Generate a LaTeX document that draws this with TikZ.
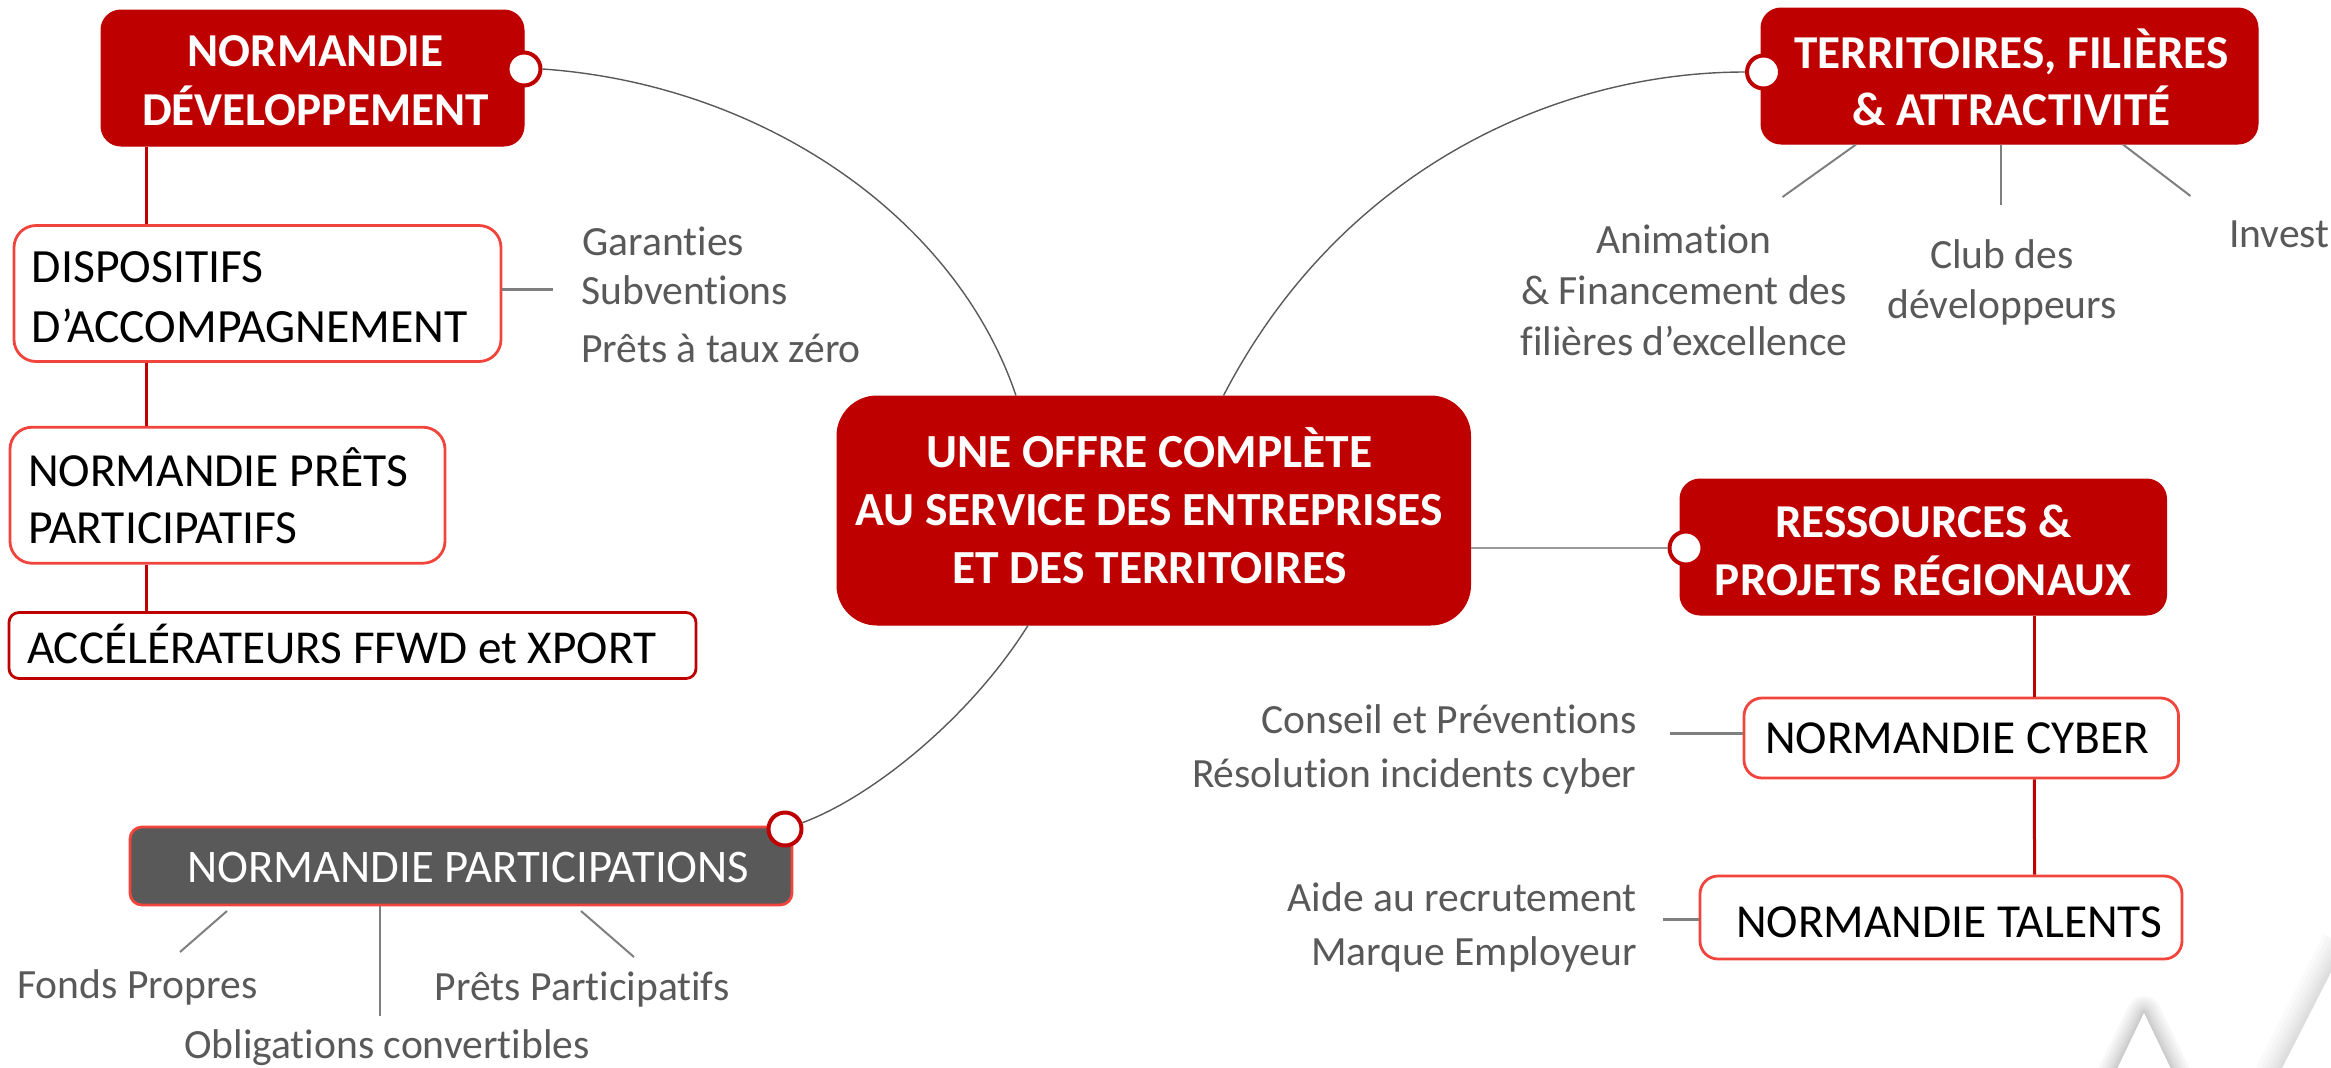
\documentclass[tikz,border=0pt]{standalone}
\usepackage{fontspec}
\setmainfont{Carlito}[Ligatures=NoCommon]
\definecolor{rednode}{HTML}{BE0000}
\definecolor{redline}{HTML}{F0443C}
\definecolor{greytext}{HTML}{595959}
\definecolor{greyline}{HTML}{7F7F7F}
\newcommand{\headfont}[2]{\fontsize{#1}{#2}\selectfont\bfseries}
\newcommand{\boxfont}[2]{\fontsize{#1}{#2}\selectfont}
\newcommand{\labelfont}[1]{\fontsize{20.8}{#1}\selectfont}
\tikzset{
  x=0.5pt,y=-0.5pt,
  headbox/.style={rectangle,rounded corners=10pt,fill=rednode,draw=rednode,line width=0.5pt,
    text=white,align=center,font=\headfont{23.6}{29.5},inner sep=0pt,text depth=0pt},
  whitebox/.style={rectangle,rounded corners=11pt,fill=white,draw=redline,line width=1.4pt,
    text=black,align=flush left,font=\boxfont{23.7}{30},inner ysep=0pt,text depth=0pt},
  knob/.style={circle,fill=white,draw=rednode,line width=2pt,minimum size=16.5pt,inner sep=0pt},
  greylabel/.style={text=greytext,font=\labelfont{27},inner sep=0pt},
  redlink/.style={draw=rednode,line width=1.5pt},
  greylink/.style={draw=greyline,line width=1.5pt},
  thincurve/.style={draw=greytext,line width=0.7pt},
}
\begin{document}
\begin{tikzpicture}
\useasboundingbox (0,0) rectangle (2331,1067);
% background mark
\begin{scope}
\clip (0,0) rectangle (2331,1067);
\foreach \w in {34,28,22,17,12,8,4}{
  \draw[line width=\w*0.5pt,black,opacity=0.03,line join=round,line cap=butt] (2105,1094) -- (2144,1013) -- (2183,1094);
  \draw[line width=\w*0.7pt,black,opacity=0.02,line cap=butt] (2270,1092) -- (2345,945);
}
\fill[white] (2105,1094) -- (2144,1013) -- (2183,1094) -- cycle;
\fill[white] (2270,1092) -- (2345,945) -- (2345,1092) -- cycle;
\end{scope}

% central node
\node[headbox,font=\headfont{23.75}{29},rounded corners=20pt,minimum width=316.75pt,minimum height=114.5pt,text height=73pt] (ctr) at (1153.75,510.5)
  {UNE OFFRE COMPLÈTE\rule{4.5pt}{0pt}\\AU SERVICE DES ENTREPRISES\rule{4.5pt}{0pt}\\ET DES TERRITOIRES\rule{4pt}{0pt}};

% headers
\node[headbox,minimum width=211.5pt,minimum height=68pt,text height=47.7pt] (nd) at (312.5,78) {\hspace*{3pt}NORMANDIE\\\hspace*{3pt}DÉVELOPPEMENT};
\node[headbox,font=\headfont{23.6}{28.5},minimum width=248.5pt,minimum height=68pt,text height=49pt] (tfa) at (2009.5,76) {\hspace*{2pt}TERRITOIRES, FILIÈRES\\\hspace*{2pt}\&~ATTRACTIVITÉ};
\node[headbox,font=\headfont{23.6}{29},minimum width=243.25pt,minimum height=68pt,text height=48pt] (rpr) at (1923.25,547) {RESSOURCES \&\\PROJETS RÉGIONAUX};

% white boxes
\node[whitebox,font=\boxfont{23.85}{30},text width=225.5pt,inner xsep=9pt,minimum height=68pt,text height=0pt,text depth=11pt] (dis) at (257.5,293.5) {DISPOSITIFS\\D’ACCOMPAGNEMENT};
\node[whitebox,font=\boxfont{23.75}{28.5},text width=199.5pt,inner xsep=9pt,minimum height=68pt,text height=0pt,text depth=9.2pt] (pre) at (227.5,495.2) {NORMANDIE PRÊTS\\PARTICIPATIFS};
\node[whitebox,font=\boxfont{23.6}{30},draw=rednode,rounded corners=5pt,text width=325.5pt,inner xsep=9pt,minimum height=33pt,text height=17.5pt] (acc) at (352.5,645.5) {ACCÉLÉRATEURS FFWD et XPORT};
\node[whitebox,rounded corners=9pt,text width=205.25pt,inner xsep=6pt,minimum height=40pt,text height=15pt] (cyb) at (1961.25,738) {\hspace*{4.5pt}NORMANDIE CYBER};
\node[whitebox,rounded corners=9pt,text width=229pt,inner xsep=6pt,minimum height=41.5pt,text height=19.5pt] (tal) at (1941,917.5) {\hspace*{12pt}NORMANDIE TALENTS};
\node[whitebox,font=\boxfont{23.35}{30},fill=greytext,text=white,rounded corners=6pt,text width=319pt,inner xsep=6pt,minimum height=39pt,text height=16.5pt] (par) at (461,866) {\hspace*{22.5pt}NORMANDIE PARTICIPATIONS};

% knobs
\node[knob] (ndk) at (524,69) {};
\node[knob] (tfk) at (1763.5,72) {};
\node[knob] (rpk) at (1686,548) {};
\node[knob] (pak) at (785,829) {};

% curves
\draw[thincurve] (ndk.east) .. controls (760,84) and (955,215) .. ([xshift=-68.9pt]ctr.north);
\draw[thincurve] (tfk.west) .. controls (1555,72) and (1340,170) .. ([xshift=34.9pt]ctr.north);
\draw[thincurve] (pak.20) .. controls (872,797) and (970,718) .. ([xshift=-62.9pt]ctr.south);
\draw[thincurve,draw=greyline!80] (ctr.east |- rpk) -- (rpk.west);

% red links
\draw[redlink] ([xshift=-83pt]nd.south) -- ([xshift=-55.5pt]dis.north);
\draw[redlink] ([xshift=-55.5pt]dis.south) -- ([xshift=-40.5pt]pre.north);
\draw[redlink] ([xshift=-40.5pt]pre.south) -- ([xshift=-103pt]acc.north);
\draw[redlink] ([xshift=55.6pt]rpr.south) -- ([xshift=36.6pt]cyb.north);
\draw[redlink] ([xshift=36.6pt]cyb.south) -- ([xshift=46.75pt]tal.north);

% labels
\node[greylabel,anchor=base west] (lg1) at (582,255.5) {Garanties};
\node[greylabel,anchor=base west] (lg2) at (581,304.5) {Subventions};
\node[greylabel,anchor=base west] (lg3) at (581,362.5) {Prêts à taux zéro};
\coordinate (lgc) at (553,289.3);
\draw[greylink] (dis.east |- lgc) -- (lgc);

\node[greylabel,font=\labelfont{25.5},align=center,anchor=base] (ta) at (1684,355) {Animation\\\&~Financement des\\filières d’excellence};
\node[greylabel,font=\labelfont{25},align=center,anchor=base] (tc) at (2002,318) {Club des\\développeurs};
\node[greylabel,anchor=base west] (ti) at (2228.7,247) {Invest};
\coordinate (tae) at (1782.5,197);
\coordinate (tce) at (2001,205);
\coordinate (tie) at (2190.5,196);
\draw[greylink,line width=1pt] ([xshift=-76.75pt]tfa.south) -- (tae);
\draw[greylink,line width=1pt] ([xshift=-4.25pt]tfa.south) -- (tce);
\draw[greylink,line width=1pt] ([xshift=56.75pt]tfa.south) -- (tie);

\node[greylabel,align=right,anchor=base east] (cl) at (1637,787) {Conseil et Préventions\\Résolution incidents cyber};
\node[greylabel,align=right,anchor=base east] (tl) at (1637,965.5) {Aide au recrutement\\Marque Employeur};
\coordinate (cle) at (1670,733);
\coordinate (tle) at (1663,919);
\draw[greylink] (cle) -- (cle -| cyb.west);
\draw[greylink] (tle) -- (tle -| tal.west);

\node[greylabel,anchor=base west] (pf) at (17,998) {Fonds Propres};
\node[greylabel,anchor=base west] (po) at (183.7,1058) {Obligations convertibles};
\node[greylabel,anchor=base west] (pp) at (434.5,1000) {Prêts Participatifs};
\coordinate (pfa) at (227,911);
\coordinate (pfb) at (180,952);
\coordinate (poe) at (379.5,1016);
\coordinate (ppa) at (581,911);
\coordinate (ppb) at (634,957);
\draw[greylink,line width=1pt] (pfa) -- (pfb);
\draw[greylink,line width=1pt] (par.south -| poe) -- (poe);
\draw[greylink,line width=1pt] (ppa) -- (ppb);
\end{tikzpicture}
\end{document}
